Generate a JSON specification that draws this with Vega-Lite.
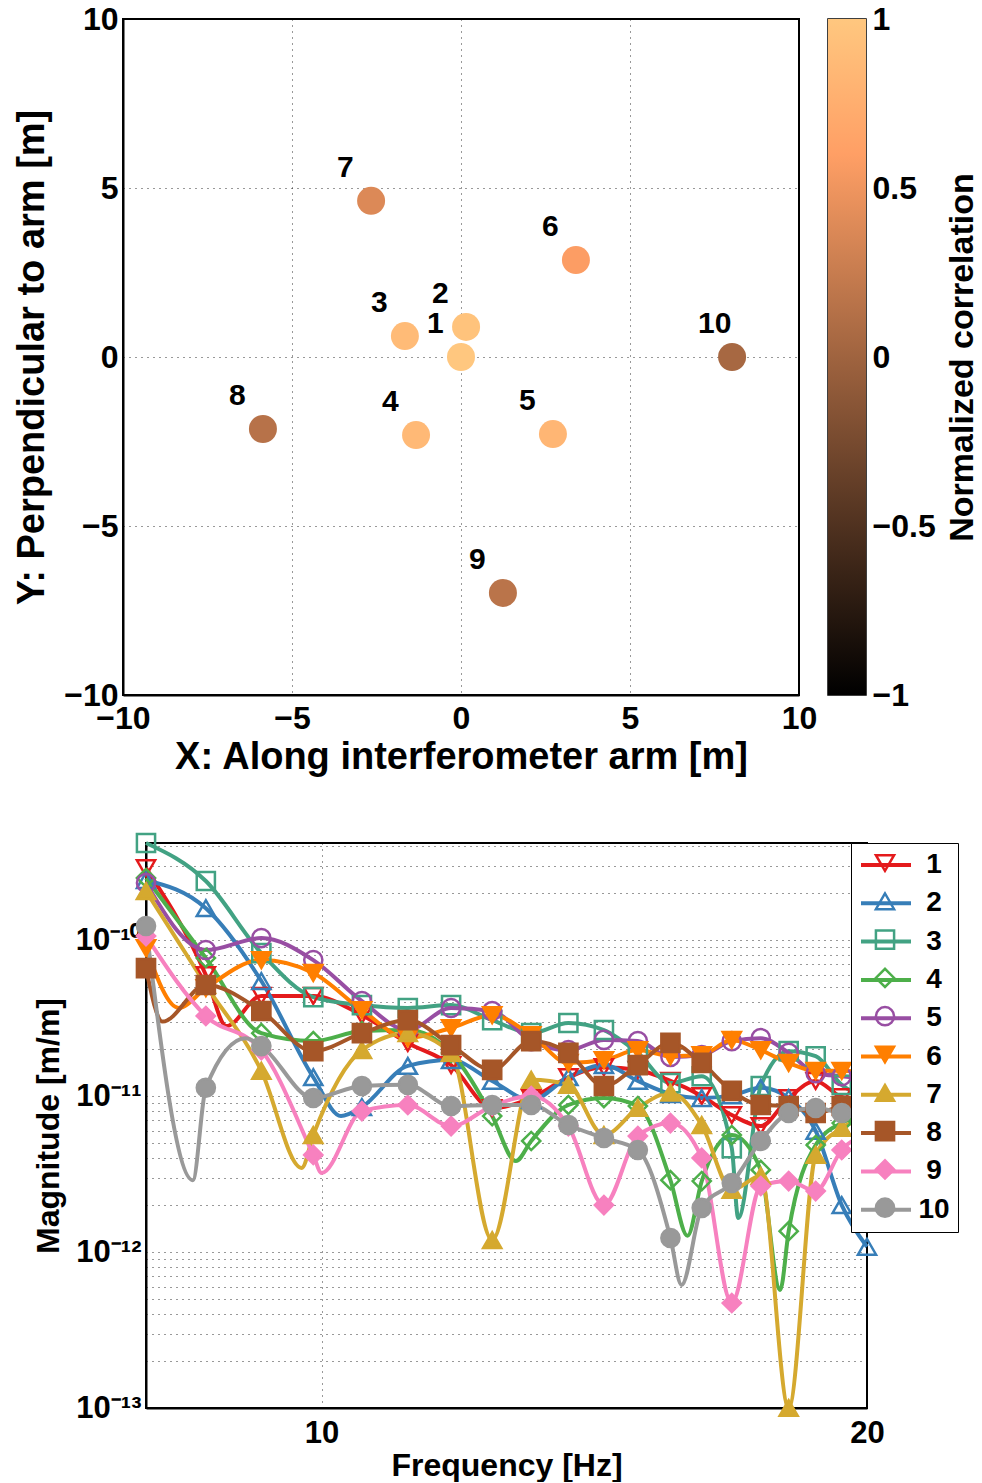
{
"$schema": "https://vega.github.io/schema/vega-lite/v6.json",
"background": "white",
"padding": {"left": 12, "top": 2, "right": 0, "bottom": 0},
"spacing": 50,
"config": {
  "font": "Liberation Sans",
  "view": {"stroke": "black", "strokeWidth": 2},
  "axis": {"labelFont": "Liberation Sans", "labelFontWeight": "bold", "labelColor": "black", "titleFont": "Liberation Sans", "titleFontWeight": "bold", "titleColor": "black", "domainColor": "black", "domainWidth": 2, "ticks": false, "gridColor": "black", "gridDash": [1, 5], "gridOpacity": 0.8, "gridWidth": 1, "labelFlush": false, "labelOverlap": false},
  "legend": {"labelFont": "Liberation Sans", "labelFontWeight": "bold", "labelColor": "black", "titleFont": "Liberation Sans", "titleFontWeight": "bold", "titleColor": "black"}
},
"vconcat": [
{
  "spacing": 9,
  "hconcat": [
    {
      "width": 676, "height": 676,
      "data": {"values": [
        {"id": "1", "x": 0, "y": 0, "corr": 1},
        {"id": "2", "x": 0.15, "y": 0.89, "corr": 0.96},
        {"id": "3", "x": -1.66, "y": 0.62, "corr": 0.88},
        {"id": "4", "x": -1.33, "y": -2.31, "corr": 0.86},
        {"id": "5", "x": 2.72, "y": -2.28, "corr": 0.83},
        {"id": "6", "x": 3.4, "y": 2.87, "corr": 0.58},
        {"id": "7", "x": -2.66, "y": 4.62, "corr": 0.38},
        {"id": "8", "x": -5.86, "y": -2.13, "corr": 0.15},
        {"id": "9", "x": 1.24, "y": -6.98, "corr": 0.17},
        {"id": "10", "x": 8.02, "y": 0, "corr": 0.05}
      ]},
      "layer": [
        {"mark": {"type": "circle", "size": 784, "opacity": 1},
         "encoding": {
           "x": {"field": "x", "type": "quantitative", "scale": {"domain": [-10, 10], "nice": false, "zero": false},
                 "axis": {"values": [-10, -5, 0, 5, 10], "title": "X: Along interferometer arm [m]", "labelFontSize": 32, "titleFontSize": 38, "labelPadding": 8, "titlePadding": 4, "grid": true}},
           "y": {"field": "y", "type": "quantitative", "scale": {"domain": [-10, 10], "nice": false, "zero": false},
                 "axis": {"values": [-10, -5, 0, 5, 10], "title": "Y: Perpendicular to arm [m]", "labelFontSize": 32, "titleFontSize": 38, "labelPadding": 5, "titlePadding": 12, "grid": true}},
           "color": {"field": "corr", "type": "quantitative",
                     "scale": {"domain": [-1, 0.6, 1], "range": ["#000000", "#FF9F65", "#FFC77F"], "interpolate": "rgb"},
                     "legend": null}
         }},
        {"mark": {"type": "text", "align": "left", "baseline": "middle", "dx": -34, "dy": -33, "fontSize": 30, "fontWeight": "bold", "font": "Liberation Sans", "color": "black"},
         "encoding": {
           "x": {"field": "x", "type": "quantitative"},
           "y": {"field": "y", "type": "quantitative"},
           "text": {"field": "id"}
         }}
      ]
    },
    {
      "width": 38, "height": 676,
      "view": {"stroke": "black", "strokeWidth": 1.5},
      "data": {"values": [{}]},
      "mark": {"type": "rect", "color": {"gradient": "linear", "x1": 0, "y1": 1, "x2": 0, "y2": 0, "stops": [{"offset": 0, "color": "#000000"}, {"offset": 0.8, "color": "#FF9F65"}, {"offset": 1, "color": "#FFC77F"}]}},
      "encoding": {
        "x": {"datum": 0, "type": "quantitative", "scale": {"domain": [0, 1], "nice": false, "zero": false}, "axis": null},
        "x2": {"datum": 1},
        "y": {"datum": -1, "type": "quantitative", "scale": {"domain": [-1, 1], "nice": false, "zero": false},
              "axis": {"orient": "right", "values": [-1, -0.5, 0, 0.5, 1], "format": "~g", "title": "Normalized correlation", "labelFontSize": 32, "labelPadding": 6, "titleFontSize": 34, "titleAngle": 270, "titleBaseline": "top", "titlePadding": 10, "grid": false, "domain": false}},
        "y2": {"datum": 1}
      }
    }
  ]
},
{
  "spacing": -93,
  "hconcat": [
    {"width": 1, "height": 1, "view": {"stroke": null}, "data": {"values": []}, "mark": {"type": "point", "opacity": 0}, "encoding": {}},
    {
      "width": 721, "height": 565,
      "data": {"values": [
{"series":1,"freq":8,"mag":2.89e-10},{"series":1,"freq":8.632,"mag":5.97e-11},{"series":1,"freq":8.86,"mag":2.81e-11},{"series":1,"freq":9.263,"mag":4.38e-11},{"series":1,"freq":9.895,"mag":4.38e-11},{"series":1,"freq":10.526,"mag":3.3e-11},{"series":1,"freq":11.158,"mag":2.19e-11},{"series":1,"freq":11.789,"mag":1.58e-11},{"series":1,"freq":12.421,"mag":8.38e-12},{"series":1,"freq":13.053,"mag":9.71e-12},{"series":1,"freq":13.684,"mag":1.32e-11},{"series":1,"freq":14.316,"mag":1.53e-11},{"series":1,"freq":14.947,"mag":1.47e-11},{"series":1,"freq":15.579,"mag":1.25e-11},{"series":1,"freq":16.211,"mag":1.0e-11},{"series":1,"freq":16.842,"mag":7.55e-12},{"series":1,"freq":17.474,"mag":6.42e-12},{"series":1,"freq":18.105,"mag":9.71e-12},{"series":1,"freq":18.737,"mag":1.25e-11},{"series":1,"freq":19.368,"mag":9.85e-12},{"series":1,"freq":20,"mag":9.42e-12},
{"series":2,"freq":8,"mag":2.42e-10},{"series":2,"freq":8.632,"mag":1.6e-10},{"series":2,"freq":9.263,"mag":5.46e-11},{"series":2,"freq":9.895,"mag":1.32e-11},{"series":2,"freq":10.25,"mag":7.44e-12},{"series":2,"freq":10.526,"mag":8.5e-12},{"series":2,"freq":11.158,"mag":1.56e-11},{"series":2,"freq":11.789,"mag":1.7e-11},{"series":2,"freq":12.421,"mag":1.25e-11},{"series":2,"freq":13.053,"mag":9.42e-12},{"series":2,"freq":13.684,"mag":1.32e-11},{"series":2,"freq":14.316,"mag":1.58e-11},{"series":2,"freq":14.947,"mag":1.25e-11},{"series":2,"freq":15.579,"mag":1.03e-11},{"series":2,"freq":16.211,"mag":9.71e-12},{"series":2,"freq":16.842,"mag":1.01e-11},{"series":2,"freq":17.474,"mag":1.13e-11},{"series":2,"freq":18.105,"mag":9.71e-12},{"series":2,"freq":18.737,"mag":5.97e-12},{"series":2,"freq":19.368,"mag":2.0e-12},{"series":2,"freq":20,"mag":1.08e-12},
{"series":3,"freq":8,"mag":4.19e-10},{"series":3,"freq":8.632,"mag":2.39e-10},{"series":3,"freq":9.263,"mag":8.25e-11},{"series":3,"freq":9.895,"mag":4.31e-11},{"series":3,"freq":10.526,"mag":3.83e-11},{"series":3,"freq":11.158,"mag":3.67e-11},{"series":3,"freq":11.789,"mag":3.83e-11},{"series":3,"freq":12.421,"mag":3.07e-11},{"series":3,"freq":13.053,"mag":2.53e-11},{"series":3,"freq":13.684,"mag":2.94e-11},{"series":3,"freq":14.316,"mag":2.65e-11},{"series":3,"freq":14.947,"mag":1.89e-11},{"series":3,"freq":15.579,"mag":1.21e-11},{"series":3,"freq":16.211,"mag":1.34e-11},{"series":3,"freq":16.842,"mag":4.64e-12},{"series":3,"freq":16.98,"mag":1.65e-12},{"series":3,"freq":17.474,"mag":1.16e-11},{"series":3,"freq":18.105,"mag":1.94e-11},{"series":3,"freq":18.737,"mag":1.8e-11},{"series":3,"freq":19.368,"mag":1.18e-11},{"series":3,"freq":20,"mag":9.71e-12},
{"series":4,"freq":8,"mag":2.5e-10},{"series":4,"freq":8.632,"mag":7.67e-11},{"series":4,"freq":9.263,"mag":2.53e-11},{"series":4,"freq":9.895,"mag":2.25e-11},{"series":4,"freq":10.526,"mag":2.61e-11},{"series":4,"freq":11.158,"mag":2.65e-11},{"series":4,"freq":11.789,"mag":1.89e-11},{"series":4,"freq":12.421,"mag":7.44e-12},{"series":4,"freq":12.8,"mag":3.83e-12},{"series":4,"freq":13.053,"mag":5.15e-12},{"series":4,"freq":13.684,"mag":8.76e-12},{"series":4,"freq":14.316,"mag":9.71e-12},{"series":4,"freq":14.947,"mag":8.63e-12},{"series":4,"freq":15.579,"mag":2.89e-12},{"series":4,"freq":15.92,"mag":1.27e-12},{"series":4,"freq":16.211,"mag":2.85e-12},{"series":4,"freq":16.842,"mag":5.62e-12},{"series":4,"freq":17.474,"mag":3.36e-12},{"series":4,"freq":17.91,"mag":5.71e-13},{"series":4,"freq":18.105,"mag":1.36e-12},{"series":4,"freq":18.737,"mag":4.85e-12},{"series":4,"freq":19.368,"mag":6.71e-12},{"series":4,"freq":20,"mag":7.55e-12},
{"series":5,"freq":8,"mag":2.32e-10},{"series":5,"freq":8.632,"mag":8.63e-11},{"series":5,"freq":9.263,"mag":1.03e-10},{"series":5,"freq":9.895,"mag":7.44e-11},{"series":5,"freq":10.526,"mag":4.06e-11},{"series":5,"freq":11.158,"mag":2.65e-11},{"series":5,"freq":11.789,"mag":3.67e-11},{"series":5,"freq":12.421,"mag":3.51e-11},{"series":5,"freq":13.053,"mag":2.25e-11},{"series":5,"freq":13.684,"mag":1.97e-11},{"series":5,"freq":14.316,"mag":2.29e-11},{"series":5,"freq":14.947,"mag":2.25e-11},{"series":5,"freq":15.579,"mag":1.78e-11},{"series":5,"freq":16.211,"mag":1.83e-11},{"series":5,"freq":16.842,"mag":2.25e-11},{"series":5,"freq":17.474,"mag":2.35e-11},{"series":5,"freq":18.105,"mag":1.89e-11},{"series":5,"freq":18.737,"mag":1.4e-11},{"series":5,"freq":19.368,"mag":1.34e-11},{"series":5,"freq":20,"mag":1.3e-11},
{"series":6,"freq":8,"mag":8.89e-11},{"series":6,"freq":8.34,"mag":3.67e-11},{"series":6,"freq":8.632,"mag":4.92e-11},{"series":6,"freq":9.263,"mag":7.44e-11},{"series":6,"freq":9.895,"mag":6.15e-11},{"series":6,"freq":10.526,"mag":3.56e-11},{"series":6,"freq":11.158,"mag":2.35e-11},{"series":6,"freq":11.789,"mag":2.73e-11},{"series":6,"freq":12.421,"mag":3.3e-11},{"series":6,"freq":13.053,"mag":2.46e-11},{"series":6,"freq":13.684,"mag":1.63e-11},{"series":6,"freq":14.316,"mag":1.7e-11},{"series":6,"freq":14.947,"mag":1.97e-11},{"series":6,"freq":15.579,"mag":1.8e-11},{"series":6,"freq":16.211,"mag":1.83e-11},{"series":6,"freq":16.842,"mag":2.29e-11},{"series":6,"freq":17.474,"mag":1.97e-11},{"series":6,"freq":18.105,"mag":1.63e-11},{"series":6,"freq":18.737,"mag":1.45e-11},{"series":6,"freq":19.368,"mag":1.45e-11},{"series":6,"freq":20,"mag":1.4e-11},
{"series":7,"freq":8,"mag":2.06e-10},{"series":7,"freq":8.632,"mag":5.15e-11},{"series":7,"freq":9.263,"mag":1.45e-11},{"series":7,"freq":9.75,"mag":3.46e-12},{"series":7,"freq":9.895,"mag":5.62e-12},{"series":7,"freq":10.526,"mag":1.97e-11},{"series":7,"freq":11.158,"mag":2.53e-11},{"series":7,"freq":11.789,"mag":1.89e-11},{"series":7,"freq":12.421,"mag":1.19e-12},{"series":7,"freq":13.053,"mag":1.27e-11},{"series":7,"freq":13.684,"mag":1.18e-11},{"series":7,"freq":14.316,"mag":5.62e-12},{"series":7,"freq":14.947,"mag":8.38e-12},{"series":7,"freq":15.579,"mag":1.05e-11},{"series":7,"freq":16.211,"mag":6.52e-12},{"series":7,"freq":16.842,"mag":2.5e-12},{"series":7,"freq":17.474,"mag":3.07e-12},{"series":7,"freq":18.105,"mag":1.0e-13},{"series":7,"freq":18.737,"mag":4.19e-12},{"series":7,"freq":19.368,"mag":6.24e-12},{"series":7,"freq":20,"mag":7.23e-12},
{"series":8,"freq":8,"mag":6.61e-11},{"series":8,"freq":8.17,"mag":3.0e-11},{"series":8,"freq":8.632,"mag":5.15e-11},{"series":8,"freq":9.263,"mag":3.51e-11},{"series":8,"freq":9.895,"mag":1.94e-11},{"series":8,"freq":10.526,"mag":2.53e-11},{"series":8,"freq":11.158,"mag":3.07e-11},{"series":8,"freq":11.789,"mag":2.12e-11},{"series":8,"freq":12.421,"mag":1.47e-11},{"series":8,"freq":13.053,"mag":2.25e-11},{"series":8,"freq":13.684,"mag":1.89e-11},{"series":8,"freq":14.316,"mag":1.16e-11},{"series":8,"freq":14.947,"mag":1.58e-11},{"series":8,"freq":15.579,"mag":2.19e-11},{"series":8,"freq":16.211,"mag":1.63e-11},{"series":8,"freq":16.842,"mag":1.08e-11},{"series":8,"freq":17.474,"mag":8.76e-12},{"series":8,"freq":18.105,"mag":8.63e-12},{"series":8,"freq":18.737,"mag":7.78e-12},{"series":8,"freq":19.368,"mag":8.63e-12},{"series":8,"freq":20,"mag":9.02e-12},
{"series":9,"freq":8,"mag":1.06e-10},{"series":9,"freq":8.632,"mag":3.26e-11},{"series":9,"freq":9.263,"mag":1.97e-11},{"series":9,"freq":9.895,"mag":4.19e-12},{"series":9,"freq":10.0,"mag":3.21e-12},{"series":9,"freq":10.526,"mag":8.01e-12},{"series":9,"freq":11.158,"mag":8.76e-12},{"series":9,"freq":11.789,"mag":6.42e-12},{"series":9,"freq":12.421,"mag":8.63e-12},{"series":9,"freq":13.053,"mag":1.0e-11},{"series":9,"freq":13.684,"mag":6.42e-12},{"series":9,"freq":14.316,"mag":2.0e-12},{"series":9,"freq":14.947,"mag":5.54e-12},{"series":9,"freq":15.579,"mag":6.71e-12},{"series":9,"freq":16.211,"mag":4.01e-12},{"series":9,"freq":16.842,"mag":4.71e-13},{"series":9,"freq":17.474,"mag":2.65e-12},{"series":9,"freq":18.105,"mag":2.85e-12},{"series":9,"freq":18.737,"mag":2.46e-12},{"series":9,"freq":19.368,"mag":4.51e-12},{"series":9,"freq":20,"mag":5.79e-12},
{"series":10,"freq":8,"mag":1.23e-10},{"series":10,"freq":8.49,"mag":2.89e-12},{"series":10,"freq":8.632,"mag":1.13e-11},{"series":10,"freq":9.08,"mag":2.35e-11},{"series":10,"freq":9.263,"mag":2.09e-11},{"series":10,"freq":9.895,"mag":9.71e-12},{"series":10,"freq":10.526,"mag":1.16e-11},{"series":10,"freq":11.158,"mag":1.18e-11},{"series":10,"freq":11.789,"mag":8.63e-12},{"series":10,"freq":12.421,"mag":8.76e-12},{"series":10,"freq":13.053,"mag":8.76e-12},{"series":10,"freq":13.684,"mag":6.52e-12},{"series":10,"freq":14.316,"mag":5.38e-12},{"series":10,"freq":14.947,"mag":4.51e-12},{"series":10,"freq":15.579,"mag":1.23e-12},{"series":10,"freq":15.8,"mag":6.15e-13},{"series":10,"freq":16.211,"mag":1.92e-12},{"series":10,"freq":16.842,"mag":2.77e-12},{"series":10,"freq":17.474,"mag":5.15e-12},{"series":10,"freq":18.105,"mag":7.78e-12},{"series":10,"freq":18.737,"mag":8.38e-12},{"series":10,"freq":19.368,"mag":7.78e-12},{"series":10,"freq":20,"mag":7.55e-12}
      ]},
      "layer": [
        {"mark": {"type": "line", "strokeWidth": 4, "interpolate": "monotone"},
         "encoding": {
           "x": {"field": "freq", "type": "quantitative", "scale": {"type": "log", "domain": [8, 20], "nice": false},
                 "axis": {"values": [10, 20], "format": "d", "title": "Frequency [Hz]", "labelFontSize": 31, "titleFontSize": 32, "labelPadding": 10, "titlePadding": 2, "grid": true}},
           "y": {"field": "mag", "type": "quantitative", "scale": {"type": "log", "domain": [1e-13, 4.19e-10], "nice": false},
                 "axis": {"values": [1e-13, 2e-13, 3e-13, 4e-13, 5e-13, 6e-13, 7e-13, 8e-13, 9e-13, 1e-12, 2e-12, 3e-12, 4e-12, 5e-12, 6e-12, 7e-12, 8e-12, 9e-12, 1e-11, 2e-11, 3e-11, 4e-11, 5e-11, 6e-11, 7e-11, 8e-11, 9e-11, 1e-10, 2e-10, 3e-10, 4e-10],
                          "labelExpr": "abs(log(datum.value)/LN10 - round(log(datum.value)/LN10)) > 0.01 ? '' : round(log(datum.value)/LN10) == -10 ? '10⁻¹⁰' : round(log(datum.value)/LN10) == -11 ? '10⁻¹¹' : round(log(datum.value)/LN10) == -12 ? '10⁻¹²' : '10⁻¹³'",
                          "title": "Magnitude [m/m]", "labelFontSize": 31, "titleFontSize": 32, "labelPadding": 5, "titlePadding": 10, "grid": true}},
           "color": {"field": "series", "type": "nominal",
                     "scale": {"range": ["#E41A1C", "#377EB8", "#42A283", "#4DAF4A", "#984EA3", "#FF7F00", "#D5A92F", "#A65628", "#F781BF", "#999999"]},
                     "legend": {"title": null, "orient": "none", "legendX": 728, "legendY": 0, "symbolType": "stroke", "symbolSize": 2500, "symbolStrokeWidth": 4, "clipHeight": 28, "labelFontSize": 28, "labelAlign": "center", "labelOffset": 21, "rowPadding": 10.3, "padding": 8, "strokeColor": "black", "fillColor": "white", "labelLimit": 200}}
         }},
        {"transform": [{"filter": {"field": "freq", "oneOf": [8, 8.632, 9.263, 9.895, 10.526, 11.158, 11.789, 12.421, 13.053, 13.684, 14.316, 14.947, 15.579, 16.211, 16.842, 17.474, 18.105, 18.737, 19.368, 20]}}],
         "mark": {"type": "point", "size": 330, "strokeWidth": 2.5, "opacity": 1},
         "encoding": {
           "x": {"field": "freq", "type": "quantitative"},
           "y": {"field": "mag", "type": "quantitative"},
           "shape": {"field": "series", "type": "nominal",
                     "scale": {"range": ["triangle-down", "triangle-up", "square", "diamond", "circle", "triangle-down", "triangle-up", "square", "diamond", "circle"]},
                     "legend": {"title": null, "orient": "none", "legendX": 740, "legendY": 822, "labelFontSize": 28, "labelOffset": 9, "rowPadding": 10.3, "padding": 8, "clipHeight": 28, "labelOpacity": 0, "symbolSize": 330, "symbolStrokeWidth": 2.5}},
           "stroke": {"field": "series", "type": "nominal",
                      "scale": {"range": ["#E41A1C", "#377EB8", "#42A283", "#4DAF4A", "#984EA3", "#FF7F00", "#D5A92F", "#A65628", "#F781BF", "#999999"]},
                      "legend": {"title": null, "orient": "none", "legendX": 740, "legendY": 822, "labelFontSize": 28, "labelOffset": 9, "rowPadding": 10.3, "padding": 8, "clipHeight": 28, "labelOpacity": 0, "symbolSize": 330, "symbolStrokeWidth": 2.5}},
           "fill": {"field": "series", "type": "nominal",
                    "scale": {"range": ["transparent", "transparent", "transparent", "transparent", "transparent", "#FF7F00", "#D5A92F", "#A65628", "#F781BF", "#999999"]},
                    "legend": {"title": null, "orient": "none", "legendX": 740, "legendY": 822, "labelFontSize": 28, "labelOffset": 9, "rowPadding": 10.3, "padding": 8, "clipHeight": 28, "labelOpacity": 0, "symbolSize": 330, "symbolStrokeWidth": 2.5}}
         }}
      ]
    }
  ]
}
]
}
